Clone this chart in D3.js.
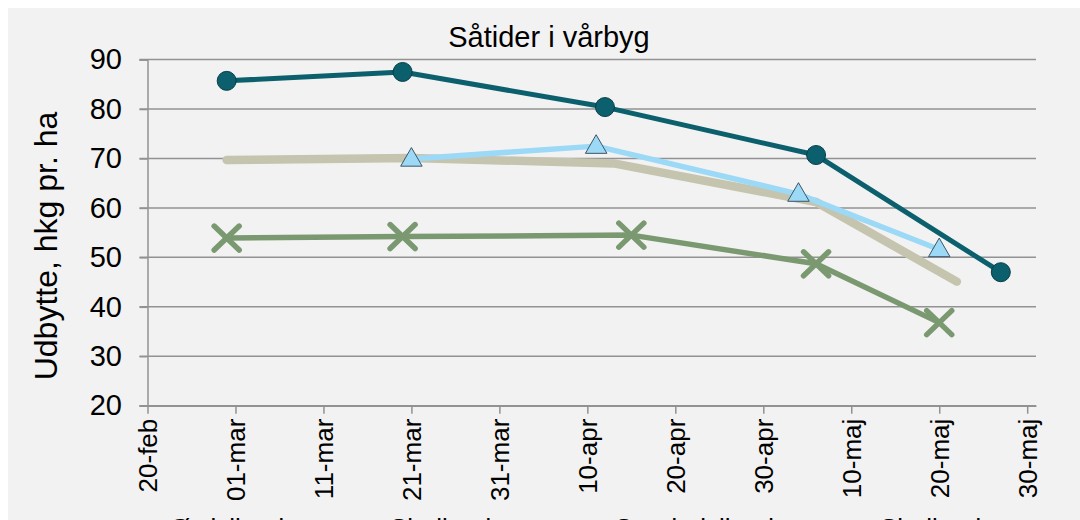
<!DOCTYPE html>
<html>
<head>
<meta charset="utf-8">
<script src="https://cdn.jsdelivr.net/npm/d3@7"></script>
<style>
  body { margin: 0; background: #ffffff; }
  text { font-family: "Liberation Sans", Arial, sans-serif; fill: #000; }
</style>
</head>
<body>
<div id="chart"></div>
<script>
// Data
const tickDates = ['2012-02-20', '2012-03-01', '2012-03-11', '2012-03-21', '2012-03-31',
    '2012-04-10', '2012-04-20', '2012-04-30', '2012-05-10', '2012-05-20', '2012-05-30'];
const tickLabels = ['20-feb', '01-mar', '11-mar', '21-mar', '31-mar',
    '10-apr', '20-apr', '30-apr', '10-maj', '20-maj', '30-maj'];
const yTicks = [20, 30, 40, 50, 60, 70, 80, 90];

const circleDates = ['2012-02-29', '2012-03-20', '2012-04-12', '2012-05-06', '2012-05-27'];
const circleValues = [85.7, 87.5, 80.4, 70.7, 47.0];

const triangleDates = ['2012-03-21', '2012-04-11', '2012-05-04', '2012-05-20'];
const triangleValues = [69.9, 72.5, 62.8, 51.6];

const plainDates = ['2012-02-29', '2012-03-21', '2012-04-13', '2012-05-06', '2012-05-22'];
const plainValues = [69.7, 70.1, 69.0, 61.2, 45.1];

const crossDates = ['2012-02-29', '2012-03-20', '2012-04-15', '2012-05-06', '2012-05-20'];
const crossValues = [53.9, 54.2, 54.5, 48.7, 36.8];

const legendNames = ['Østjylland', 'Sjælland', 'Sønderjylland', 'Sjælland'];

const parse = d3.timeParse('%Y-%m-%d');
const toPoints = (dates, values) => dates.map((d, i) => ({ date: parse(d), value: values[i] }));

// Dimension
const dimensions = {
    width: 1080,
    height: 520,
    left: 147.5,
    right: 1036,
    top: 59.6,
    bottom: 405.7,
};

const svg = d3.select('#chart')
    .append('svg')
    .attr('width', dimensions.width)
    .attr('height', dimensions.height);

svg.append('rect')
    .attr('x', 8).attr('y', 8)
    .attr('width', dimensions.width - 8)
    .attr('height', dimensions.height - 8)
    .attr('fill', '#f2f2f2');

// Scales
const xScale = d3.scaleTime()
    .domain([parse('2012-02-20'), parse('2012-05-31')])
    .range([dimensions.left, dimensions.right]);

const yScale = d3.scaleLinear()
    .domain([20, 90])
    .range([dimensions.bottom, dimensions.top]);

// Grid
svg.append('g')
    .selectAll('line')
    .data(yTicks)
    .join('line')
    .attr('x1', dimensions.left - 8)
    .attr('x2', dimensions.right)
    .attr('y1', d => yScale(d))
    .attr('y2', d => yScale(d))
    .attr('stroke', '#929292')
    .attr('stroke-width', 1.5);

// Axis
const yAxisGroup = svg.append('g')
    .attr('transform', `translate(${dimensions.left}, 0)`);
yAxisGroup.call(d3.axisLeft(yScale).tickValues(yTicks).tickSize(8).tickPadding(17.5));
yAxisGroup.select('.domain').attr('stroke', '#929292').attr('stroke-width', 1.5);
yAxisGroup.selectAll('.tick line').attr('stroke', '#929292').attr('stroke-width', 1.5);
yAxisGroup.selectAll('.tick text')
    .style('font-size', '29px');

const xAxisGroup = svg.append('g')
    .attr('transform', `translate(0, ${dimensions.bottom})`);
xAxisGroup.call(d3.axisBottom(xScale)
    .tickValues(tickDates.map(parse))
    .tickFormat((d, i) => tickLabels[i])
    .tickSize(8)
    .tickSizeOuter(0));
xAxisGroup.select('.domain').attr('stroke', '#929292').attr('stroke-width', 1.5);
xAxisGroup.selectAll('.tick line').attr('stroke', '#929292').attr('stroke-width', 1.5);
xAxisGroup.selectAll('.tick text')
    .style('font-size', '26px')
    .attr('text-anchor', 'end')
    .attr('transform', 'rotate(-90)')
    .attr('x', -13)
    .attr('y', 0)
    .attr('dy', '0.35em');

// Titles
svg.append('text')
    .attr('x', 549)
    .attr('y', 47)
    .attr('text-anchor', 'middle')
    .style('font-size', '29px')
    .text('Såtider i vårbyg');

svg.append('text')
    .attr('transform', 'translate(57, 246) rotate(-90)')
    .attr('text-anchor', 'middle')
    .style('font-size', '32px')
    .text('Udbytte, hkg pr. ha');

// Lines
const line = d3.line()
    .x(d => xScale(d.date))
    .y(d => yScale(d.value));

const plainData = toPoints(plainDates, plainValues);
const triangleData = toPoints(triangleDates, triangleValues);
const crossData = toPoints(crossDates, crossValues);
const circleData = toPoints(circleDates, circleValues);

svg.append('path')
    .datum(plainData)
    .attr('d', line)
    .attr('fill', 'none')
    .attr('stroke', '#c5c4ae')
    .attr('stroke-width', 8.5)
    .attr('stroke-linecap', 'round')
    .attr('stroke-linejoin', 'round');

svg.append('path')
    .datum(triangleData)
    .attr('d', line)
    .attr('fill', 'none')
    .attr('stroke', '#9cd9f7')
    .attr('stroke-width', 5.5)
    .attr('stroke-linejoin', 'round');

svg.append('path')
    .datum(crossData)
    .attr('d', line)
    .attr('fill', 'none')
    .attr('stroke', '#7b9971')
    .attr('stroke-width', 5.5)
    .attr('stroke-linejoin', 'round');

svg.append('path')
    .datum(circleData)
    .attr('d', line)
    .attr('fill', 'none')
    .attr('stroke', '#0c5f6c')
    .attr('stroke-width', 5)
    .attr('stroke-linejoin', 'round');

// Markers
svg.append('g')
    .selectAll('path')
    .data(triangleData)
    .join('path')
    .attr('d', d3.symbol(d3.symbolTriangle, 200))
    .attr('transform', d => `translate(${xScale(d.date)}, ${yScale(d.value) + 1})`)
    .attr('fill', '#9cd9f7')
    .attr('stroke', '#3f5566')
    .attr('stroke-width', 1);

const crosses = svg.append('g')
    .selectAll('g')
    .data(crossData)
    .join('g')
    .attr('transform', d => `translate(${xScale(d.date)}, ${yScale(d.value)})`)
    .attr('stroke', '#7b9971')
    .attr('stroke-width', 5.5)
    .attr('stroke-linecap', 'round');
crosses.append('line').attr('x1', -12.5).attr('y1', -12).attr('x2', 12.5).attr('y2', 12);
crosses.append('line').attr('x1', -12.5).attr('y1', 12).attr('x2', 12.5).attr('y2', -12);

svg.append('g')
    .selectAll('circle')
    .data(circleData)
    .join('circle')
    .attr('cx', d => xScale(d.date))
    .attr('cy', d => yScale(d.value))
    .attr('r', 9.5)
    .attr('fill', '#0c5f6c')
    .attr('stroke', '#083f48')
    .attr('stroke-width', 1);

// Legend (mostly below the visible area)
svg.append('g')
    .selectAll('text')
    .data(legendNames)
    .join('text')
    .attr('x', (d, i) => [170, 390, 615, 880][i])
    .attr('y', 537)
    .style('font-size', '26px')
    .text(d => d);
</script>
</body>
</html>
